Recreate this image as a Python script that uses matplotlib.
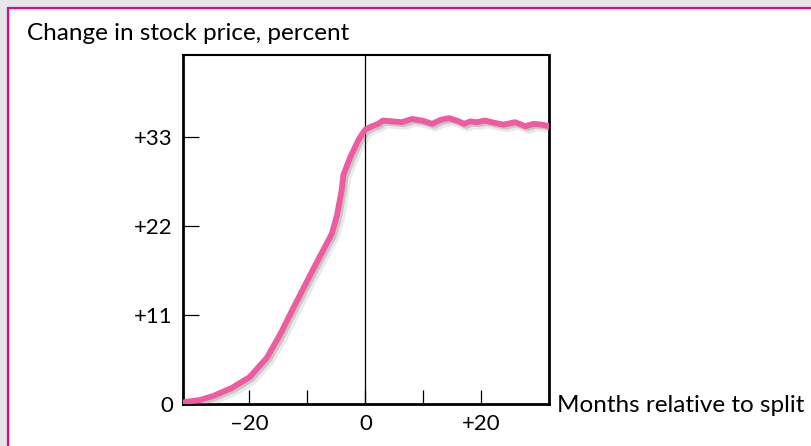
import matplotlib.pyplot as plt
import matplotlib.patheffects as pe
from matplotlib.patches import Rectangle

# values
months = [-31.1, -28.5, -26.2, -23.0, -20.0, -17.0, -14.7, -12.4, -9.9, -7.8,
          -5.8, -4.9, -4.1, -3.8, -2.6, -1.2, -0.5, 0.0, 1.1, 2.2, 3.0, 4.8,
          6.3, 8.0, 9.8, 11.5, 13.0, 14.4, 15.8, 17.0, 18.1, 19.2, 20.6, 22.4,
          23.8, 25.8, 27.6, 29.0, 30.4, 31.7]
change = [0.25, 0.5, 1.0, 2.0, 3.3, 5.7, 8.6, 11.9, 15.4, 18.3,
          21.0, 23.3, 26.4, 28.3, 30.5, 32.6, 33.4, 33.9, 34.3, 34.6, 35.0, 34.9,
          34.8, 35.2, 35.0, 34.6, 35.1, 35.3, 35.0, 34.6, 34.9, 34.8, 35.0, 34.7,
          34.5, 34.8, 34.3, 34.6, 34.5, 34.3]

xticks = [-20, -10, 0, 10, 20]
xticklabels = ['\u201320', '', '0', '', '+20']
yticks = [0, 11, 22, 33]
yticklabels = ['0', '+11', '+22', '+33']

plt.rcParams['font.family'] = ['Lato', 'DejaVu Sans']

W, H = 811, 446
fig = plt.figure(figsize=(W / 100, H / 100), dpi=100, facecolor='#e6e7e8')

# pink frame, runs off the right and bottom edges
fig.patches.append(Rectangle((7.5 / W, -0.1), 1.2, 1.1 - 7.5 / H,
                             transform=fig.transFigure, facecolor='white',
                             edgecolor='#ec008c', linewidth=1.6, zorder=-5))

ax = fig.add_axes([182.7 / W, 1 - 404 / H, (549.3 - 182.7) / W, (404 - 55) / H])
ax.set_facecolor('white')

ax.axvline(0, color='black', linewidth=0.9, zorder=1)
# soft grey drop shadow under the pink line
ax.plot(months, change, color='#ee5ba1', linewidth=4.2, solid_capstyle='round',
        solid_joinstyle='round', zorder=3,
        path_effects=[pe.SimpleLineShadow(offset=(2.5, -2.5), shadow_color='#888888', alpha=0.18, linewidth=6),
                      pe.SimpleLineShadow(offset=(1.5, -1.5), shadow_color='#777777', alpha=0.3),
                      pe.Normal()])

ax.set_xlim(-31.5, 31.7)
ax.set_ylim(0, 43.1)

ax.set_xticks(xticks)
ax.set_xticklabels(xticklabels)
ax.set_yticks(yticks)
ax.set_yticklabels(yticklabels)
ax.tick_params(axis='x', direction='in', length=10, width=0.9, pad=7, labelsize=16)
ax.tick_params(axis='y', direction='in', length=11.5, width=0.9, pad=7, labelsize=16)

for side in ['left', 'bottom', 'right']:
    ax.spines[side].set_linewidth(2.0)
ax.spines['top'].set_linewidth(1.5)

fig.text(27 / W, 1 - 33 / H, 'Change in stock price, percent', fontsize=17.5,
         ha='left', va='center')
fig.text(557 / W, 1 - 405 / H, 'Months relative to split', fontsize=17.5,
         ha='left', va='center')

fig.savefig('out.png', dpi=100, facecolor=fig.get_facecolor())
